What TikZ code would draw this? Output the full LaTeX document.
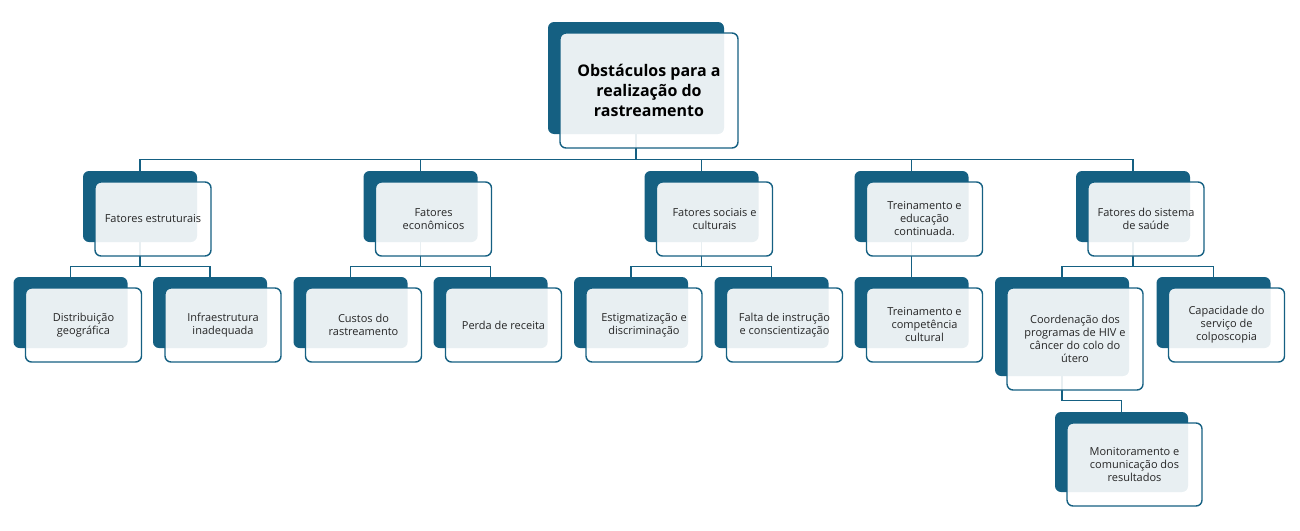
\documentclass[tikz,border=0pt]{standalone}
\usepackage{fontspec}
\setmainfont{Open Sans}
\usetikzlibrary{positioning,calc,backgrounds}
\definecolor{deepblue}{HTML}{156082}
\definecolor{inktext}{HTML}{262626}

% one card: dark back plate + light front plate
\newcommand{\orgtile}[6][]{%
  \node[backtile, minimum width=#4, minimum height=#5] (#2) at #3 {};
  \node[fronttile, minimum width=#4+2pt, minimum height=#5+3pt, #1] (#2-f) at ($(#2)+(13,12.5)$) {#6};
}

\begin{document}
\begin{tikzpicture}[x=1pt, y=-1pt,
  backtile/.style={rectangle, rounded corners=6pt, fill=deepblue, inner sep=0pt},
  fronttile/.style={rectangle, rounded corners=6pt, fill=white, fill opacity=0.9, text opacity=1,
    draw=deepblue, line width=1.4pt, align=center, inner sep=2pt, text=inktext,
    font=\fontsize{11}{13}\selectfont},
  toptext/.style={font=\fontsize{16}{20}\selectfont\bfseries, text=black},
  link/.style={draw=deepblue, line width=1.4pt},
]
\useasboundingbox (0,0) rectangle (1300,530);

% Top
\orgtile[toptext]{root}{(636,78)}{176pt}{112pt}{Obstáculos para a\\realização do\\rastreamento}

% First level
\orgtile{estr}{(140,206.5)}{114pt}{71pt}{Fatores estruturais}
\orgtile{econ}{(420.5,206.5)}{114pt}{71pt}{Fatores\\econômicos}
\orgtile{soc}{(701.5,206.5)}{114pt}{71pt}{Fatores sociais e\\culturais}
\orgtile{trein}{(911.5,206.5)}{114pt}{71pt}{Treinamento e\\educação\\continuada.}
\orgtile{sist}{(1133,206.5)}{114pt}{71pt}{Fatores do sistema\\de saúde}

% Second level
\orgtile{distr}{(70.5,312.5)}{114pt}{71pt}{Distribuição\\geográfica}
\orgtile{infra}{(210,312.5)}{114pt}{71pt}{Infraestrutura\\inadequada}
\orgtile{custos}{(350.5,312.5)}{114pt}{71pt}{Custos do\\rastreamento}
\orgtile{perda}{(490.5,312.5)}{114pt}{71pt}{Perda de receita}
\orgtile{estig}{(631,312.5)}{114pt}{71pt}{Estigmatização e\\discriminação}
\orgtile{falta}{(771.5,312.5)}{114pt}{71pt}{Falta de instrução\\e conscientização}
\orgtile{cult}{(911.5,312.5)}{114pt}{71pt}{Treinamento e\\competência\\cultural}
\orgtile{coord}{(1062,326.5)}{134pt}{99pt}{Coordenação dos\\programas de HIV e\\câncer do colo do\\útero}
\orgtile{capac}{(1213.5,312.5)}{114pt}{71pt}{Capacidade do\\serviço de\\colposcopia}

% Third level
\orgtile{monit}{(1121.5,452)}{133pt}{80pt}{Monitoramento e\\comunicação dos\\resultados}

% Connectors behind the cards
\begin{scope}[on background layer]
\foreach \kid in {estr,econ,soc,trein,sist}
  \draw[link] (root.south) -- ++(0,25) -| (\kid.north);
\foreach \kid in {distr,infra}
  \draw[link] (estr.south) -- ++(0,24) -| (\kid.north);
\foreach \kid in {custos,perda}
  \draw[link] (econ.south) -- ++(0,24) -| (\kid.north);
\foreach \kid in {estig,falta}
  \draw[link] (soc.south) -- ++(0,24) -| (\kid.north);
\draw[link] (trein.south) -- (cult.north);
\foreach \kid in {coord,capac}
  \draw[link] (sist.south) -- ++(0,24) -| (\kid.north);
\draw[link] (coord.south) -- ++(0,24) -| (monit.north);
\end{scope}

\end{tikzpicture}
\end{document}
